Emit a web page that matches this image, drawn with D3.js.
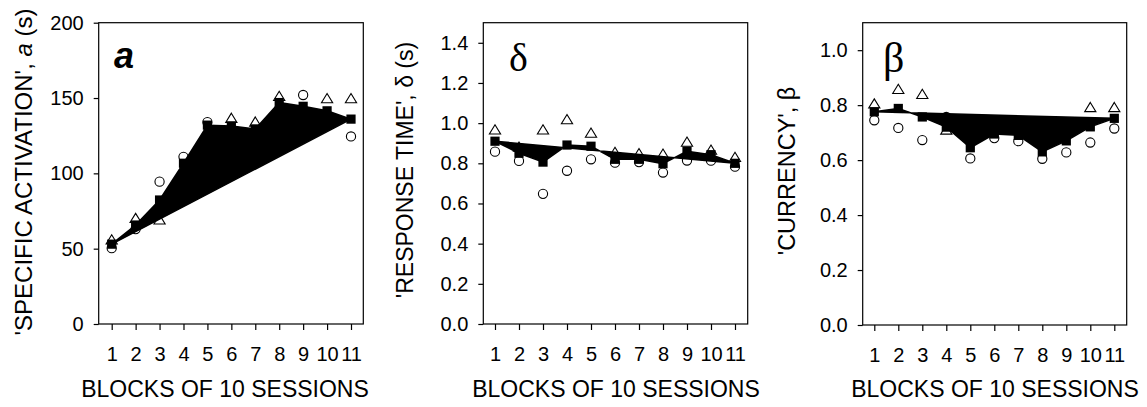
<!DOCTYPE html>
<html>
<head>
<meta charset="utf-8">
<script src="https://cdn.jsdelivr.net/npm/d3@7"></script>
<style>
  html, body { margin: 0; padding: 0; background: #fff; }
  svg { display: block; }
</style>
</head>
<body>
<svg id="chart" width="1147" height="407"></svg>
<script>
// ---- data ----
const blocks = [1, 2, 3, 4, 5, 6, 7, 8, 9, 10, 11];

const aMean     = [53, 65.7, 82.3, 106.7, 132, 131.5, 129.5, 147, 144.5, 141.5, 136];
const aCircle   = [50.3, 63, 94.5, 111, 134, 128, 125, 140, 152, 136, 124.5];
const aTriangle = [55.8, 70, 69, 100, 125, 136.5, 134, 151, 138, 149.5, 149.5];
const aTicks    = [0, 50, 100, 150, 200];

const dMean     = [0.91, 0.85, 0.806, 0.891, 0.885, 0.82, 0.82, 0.798, 0.86, 0.843, 0.80];
const dCircle   = [0.858, 0.812, 0.648, 0.763, 0.82, 0.803, 0.806, 0.754, 0.814, 0.813, 0.783];
const dTriangle = [0.966, 0.88, 0.966, 1.017, 0.95, 0.854, 0.848, 0.845, 0.905, 0.865, 0.829];
const dTicks    = [0, 0.2, 0.4, 0.6, 0.8, 1.0, 1.2, 1.4];

const bMean     = [0.776, 0.788, 0.757, 0.72, 0.645, 0.695, 0.69, 0.63, 0.67, 0.721, 0.752];
const bCircle   = [0.745, 0.717, 0.673, 0.757, 0.606, 0.68, 0.669, 0.605, 0.628, 0.664, 0.715];
const bTriangle = [0.804, 0.857, 0.839, 0.709, 0.70, 0.73, 0.72, 0.70, 0.72, 0.791, 0.791];
const bTicks    = [0, 0.2, 0.4, 0.6, 0.8, 1.0];

const xTickLabels = blocks.map(String);
const xTitle = "BLOCKS OF 10 SESSIONS";

const SANS = '"Liberation Sans", Arial, Helvetica, sans-serif';
const SERIF = '"Liberation Serif", "Times New Roman", Times, serif';

// ---- layout ----
const panels = [
  { mean: aMean, circle: aCircle, tri: aTriangle, ticks: aTicks, ymax: 200, fmt: d3.format("d"),
    left: 98.7, right: 363.3, top: 22.7, bottom: 324, x1: 111.7, x11: 351, xTitleX: 225, yTitleX: 32, yTitleY: 172, yTitleSize: 24,
    yTitle: [["'SPECIFIC ACTIVATION', ", null], ["a", "italic"], [" (s)", null]],
    label: { text: "a", x: 114, y: 68, size: 36, weight: "bold", style: "italic", family: SANS } },
  { mean: dMean, circle: dCircle, tri: dTriangle, ticks: dTicks, ymax: 1.5, fmt: d3.format(".1f"),
    left: 483.3, right: 747.7, top: 22.7, bottom: 324, x1: 495, x11: 735, xTitleX: 616, yTitleX: 413, yTitleY: 170, yTitleSize: 23,
    yTitle: [["'RESPONSE TIME', \u03b4 (s)", null]],
    label: { text: "\u03b4", x: 509, y: 71, size: 40, weight: "normal", style: "normal", family: SERIF } },
  { mean: bMean, circle: bCircle, tri: bTriangle, ticks: bTicks, ymax: 1.1, fmt: d3.format(".1f"),
    left: 862.7, right: 1126.7, top: 22.7, bottom: 325, x1: 874.3, x11: 1114.3, xTitleX: 995, yTitleX: 795, yTitleY: 171, yTitleSize: 23.5,
    yTitle: [["'CURRENCY', \u03b2", null]],
    label: { text: "\u03b2", x: 883, y: 72, size: 42, weight: "normal", style: "normal", family: SERIF } }
];

const svg = d3.select("#chart");

panels.forEach(p => {
  const x = d3.scaleLinear().domain([1, 11]).range([p.x1, p.x11]);
  const y = d3.scaleLinear().domain([0, p.ymax]).range([p.bottom, p.top]);
  const g = svg.append("g");

  // y axis
  const yAxis = g.append("g")
    .attr("transform", `translate(${p.left},0)`)
    .call(d3.axisLeft(y).tickValues(p.ticks).tickFormat(p.fmt).tickSize(5).tickPadding(10));
  yAxis.select(".domain").remove();
  yAxis.selectAll("line").attr("stroke", "#000").attr("stroke-width", 1.2);
  yAxis.selectAll("text").style("font-size", "20px").style("font-family", SANS).attr("fill", "#000");

  // x axis
  const xAxis = g.append("g")
    .attr("transform", `translate(0,${p.bottom})`)
    .call(d3.axisBottom(x).tickValues(blocks).tickFormat((d, i) => xTickLabels[i]).tickSize(6).tickPadding(17));
  xAxis.select(".domain").remove();
  xAxis.selectAll("line").attr("stroke", "#000").attr("stroke-width", 1.2);
  xAxis.selectAll("text").style("font-size", "20px").style("font-family", SANS).attr("fill", "#000");

  // frame
  g.append("rect")
    .attr("x", p.left).attr("y", p.top)
    .attr("width", p.right - p.left).attr("height", p.bottom - p.top)
    .attr("fill", "none").attr("stroke", "#000").attr("stroke-width", 1.2);

  // open circles
  g.selectAll("circle.c").data(p.circle).join("circle")
    .attr("class", "c")
    .attr("cx", (d, i) => x(blocks[i])).attr("cy", d => y(d)).attr("r", 4.6)
    .attr("fill", "#fff").attr("stroke", "#000").attr("stroke-width", 1.1);

  // open triangles
  g.selectAll("path.t").data(p.tri).join("path")
    .attr("class", "t")
    .attr("d", (d, i) => {
      const cx = x(blocks[i]), cy = y(d);
      return `M${cx},${cy - 5.2}L${cx + 5.6},${cy + 4}L${cx - 5.6},${cy + 4}Z`;
    })
    .attr("fill", "#fff").attr("stroke", "#000").attr("stroke-width", 1.1);

  // filled mean polygon (closed line)
  const line = d3.line().x((d, i) => x(blocks[i])).y(d => y(d));
  g.append("path")
    .attr("d", line(p.mean) + "Z")
    .attr("fill", "#000").attr("stroke", "#000").attr("stroke-width", 1.5).attr("stroke-linejoin", "round");

  // filled squares
  g.selectAll("rect.s").data(p.mean).join("rect")
    .attr("class", "s")
    .attr("x", (d, i) => x(blocks[i]) - 4.6).attr("y", d => y(d) - 4.6)
    .attr("width", 9.2).attr("height", 9.2).attr("fill", "#000");

  // panel label
  g.append("text")
    .attr("x", p.label.x).attr("y", p.label.y)
    .style("font-size", p.label.size + "px").style("font-weight", p.label.weight)
    .style("font-style", p.label.style).style("font-family", p.label.family)
    .attr("fill", "#000")
    .text(p.label.text);

  // x title
  g.append("text")
    .attr("x", p.xTitleX).attr("y", 397)
    .attr("text-anchor", "middle")
    .style("font-size", "23px").style("font-family", SANS).attr("fill", "#000")
    .text(xTitle);

  // y title
  const yt = g.append("text")
    .attr("transform", `translate(${p.yTitleX},${p.yTitleY}) rotate(-90)`)
    .attr("text-anchor", "middle")
    .style("font-size", p.yTitleSize + "px").style("font-family", SANS).attr("fill", "#000");
  p.yTitle.forEach(([t, st]) => {
    const ts = yt.append("tspan").text(t);
    if (st) ts.style("font-style", st);
  });
});
</script>
</body>
</html>
